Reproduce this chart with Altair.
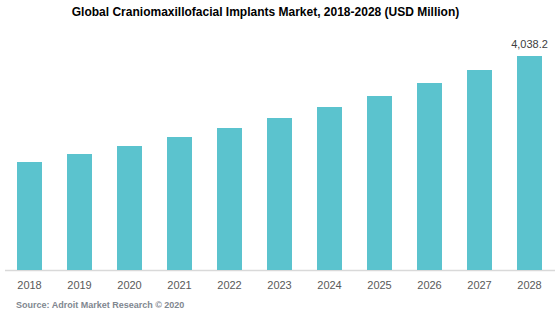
import altair as alt
import pandas as pd

years = ["2018", "2019", "2020", "2021", "2022", "2023", "2024", "2025", "2026", "2027", "2028"]
values = [2038, 2189, 2340, 2510, 2680, 2868, 3076, 3283, 3529, 3774, 4038.2]
labels = ["", "", "", "", "", "", "", "", "", "", "4,038.2"]

df = pd.DataFrame({"year": years, "value": values, "label": labels})

sans = "Liberation Sans, Arial, sans-serif"

x = alt.X(
    "year:N",
    sort=years,
    scale=alt.Scale(paddingInner=0.5, paddingOuter=0.25),
    axis=alt.Axis(
        title="Source: Adroit Market Research © 2020",
        titleFont=sans,
        titleFontSize=9,
        titleFontWeight="bold",
        titleColor="#7f8790",
        titleAnchor="start",
        titleAlign="left",
        titleX=11,
        titleY=30,
        labelAngle=0,
        labelFont=sans,
        labelFontSize=11,
        labelColor="#595959",
        labelPadding=9,
        ticks=False,
        domainColor="#d9d9d9",
        domainWidth=1.5,
        grid=False,
    ),
)
y = alt.Y(
    "value:Q",
    scale=alt.Scale(domain=[0, 4528.8], nice=False, zero=True),
    axis=None,
)

bars = alt.Chart(df).mark_bar(color="#5bc3ce").encode(x=x, y=y)
text = alt.Chart(df).mark_text(
    dy=-6, fontSize=11, color="#404040", font=sans, baseline="bottom"
).encode(x=alt.X("year:N", sort=years), y="value:Q", text="label:N")

chart = (
    alt.layer(bars, text)
    .properties(
        width=550,
        height=240,
        title=alt.TitleParams(
            "Global Craniomaxillofacial Implants Market, 2018-2028 (USD Million)",
            font=sans,
            fontSize=12,
            fontWeight="bold",
            color="#000000",
            anchor="middle",
            dx=-14,
            offset=11,
        ),
        autosize=alt.AutoSizeParams(type="none"),
        padding={"left": 4.5, "top": 30, "right": 2.5, "bottom": 54},
    )
    .configure_view(stroke=None)
)

chart.save("out.html", embed_options={"renderer": "svg", "actions": False})
